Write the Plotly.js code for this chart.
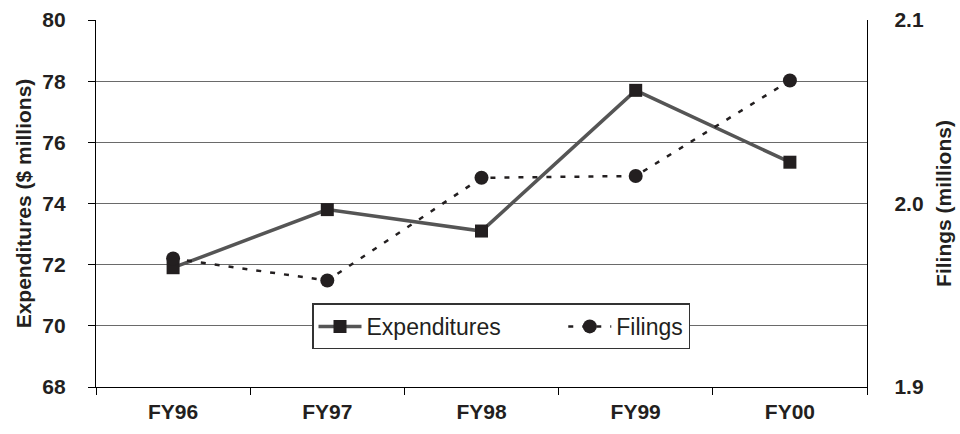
<!DOCTYPE html>
<html>
<head>
<meta charset="utf-8">
<script src="https://cdn.plot.ly/plotly-3.0.1.min.js"></script>
<style>
  html, body { margin: 0; padding: 0; background: #ffffff; }
  #chart { width: 960px; height: 434px; }
</style>
</head>
<body>
<div id="chart"></div>
<script>
// Fiscal years on the category axis
const years = ['FY96', 'FY97', 'FY98', 'FY99', 'FY00'];
// Expenditures, $ millions (left axis)
const expenditures = [71.9, 73.8, 73.1, 77.7, 75.35];
// Filings, millions (right axis)
const filings = [1.970, 1.958, 2.014, 2.015, 2.067];
// Right-axis ticks
const filingTicks = [1.9, 2.0, 2.1];
const filingTickText = ['1.9', '2.0', '2.1'];

const ink = '#231f20';
const fontFam = '"Liberation Sans", Arial, Helvetica, sans-serif';
const boldFont = { family: fontFam, size: 21, color: ink, weight: 'bold' };
const gap = '\u00a0'.repeat(9);   // spacing between the two legend entries

const traces = [
  {
    x: years, y: expenditures, name: 'Expenditures' + gap,
    type: 'scatter', mode: 'lines+markers',
    line: { color: '#555555', width: 3.5 },
    marker: { symbol: 'square', size: 13, color: ink },
    xaxis: 'x', yaxis: 'y'
  },
  {
    x: years, y: filings, name: 'Filings',
    type: 'scatter', mode: 'lines+markers',
    line: { color: ink, width: 2.5, dash: '5px,9px' },
    marker: { symbol: 'circle', size: 14, color: ink },
    xaxis: 'x', yaxis: 'y2'
  }
];

// shared settings for the tick-only overlay axes
const tickOnly = {
  showticklabels: false, showline: false, showgrid: false, zeroline: false,
  tickwidth: 1, tickcolor: '#000', ticklen: 7
};

const layout = {
  width: 960, height: 434,
  margin: { l: 96, r: 93, t: 20, b: 47 },
  paper_bgcolor: '#ffffff', plot_bgcolor: '#ffffff',
  font: { family: fontFam, color: ink },
  showlegend: true,
  legend: {
    orientation: 'h',
    x: (312 - 96) / 771, xanchor: 'left',
    y: 0.165, yanchor: 'middle',
    bgcolor: '#ffffff', bordercolor: '#333333', borderwidth: 1.5,
    font: { family: fontFam, size: 23, color: ink },
    itemwidth: 43
  },
  xaxis: {
    type: 'category', range: [-0.5, 4.5],
    tickson: 'boundaries', ticks: 'outside', ticklen: 7, tickwidth: 1, tickcolor: '#000',
    showline: true, linecolor: '#000', linewidth: 1.2,
    showgrid: false, zeroline: false,
    tickfont: boldFont, ticklabelstandoff: 6
  },
  // inner half of the crossing ticks along the bottom
  xaxis2: Object.assign({
    type: 'category', range: [-0.5, 4.5], overlaying: 'x', anchor: 'y',
    categoryarray: years, categoryorder: 'array',
    tickson: 'boundaries', ticks: 'inside'
  }, tickOnly),
  yaxis: {
    range: [68, 80], dtick: 2, tick0: 68,
    ticks: 'outside', ticklen: 7, tickwidth: 1, tickcolor: '#000',
    showline: true, linecolor: '#000', linewidth: 1.2,
    showgrid: true, gridcolor: '#6a6a6a', gridwidth: 1.2,
    zeroline: false,
    tickfont: boldFont, ticklabelstandoff: 18,
    title: { text: 'Expenditures ($ millions)', font: boldFont, standoff: 4 }
  },
  // right axis: labels set out from the line by a long transparent tick
  yaxis2: {
    range: [1.9, 2.1], overlaying: 'y', side: 'right', anchor: 'x',
    tickvals: filingTicks, ticktext: filingTickText,
    ticks: 'outside', ticklen: 22, tickwidth: 1, tickcolor: 'rgba(0,0,0,0)',
    showline: true, linecolor: '#000', linewidth: 1.2,
    showgrid: false, zeroline: false,
    tickfont: boldFont,
    title: { text: 'Filings (millions)', font: boldFont, standoff: 13 }
  },
  // visible crossing ticks on the right axis
  yaxis3: Object.assign({
    range: [1.9, 2.1], overlaying: 'y', side: 'right', anchor: 'x',
    tickvals: filingTicks, ticks: 'inside'
  }, tickOnly),
  yaxis4: Object.assign({
    range: [1.9, 2.1], overlaying: 'y', side: 'right', anchor: 'x',
    tickvals: filingTicks, ticks: 'outside'
  }, tickOnly)
};

Plotly.newPlot('chart', traces, layout, { displayModeBar: false, staticPlot: true });
</script>
</body>
</html>
